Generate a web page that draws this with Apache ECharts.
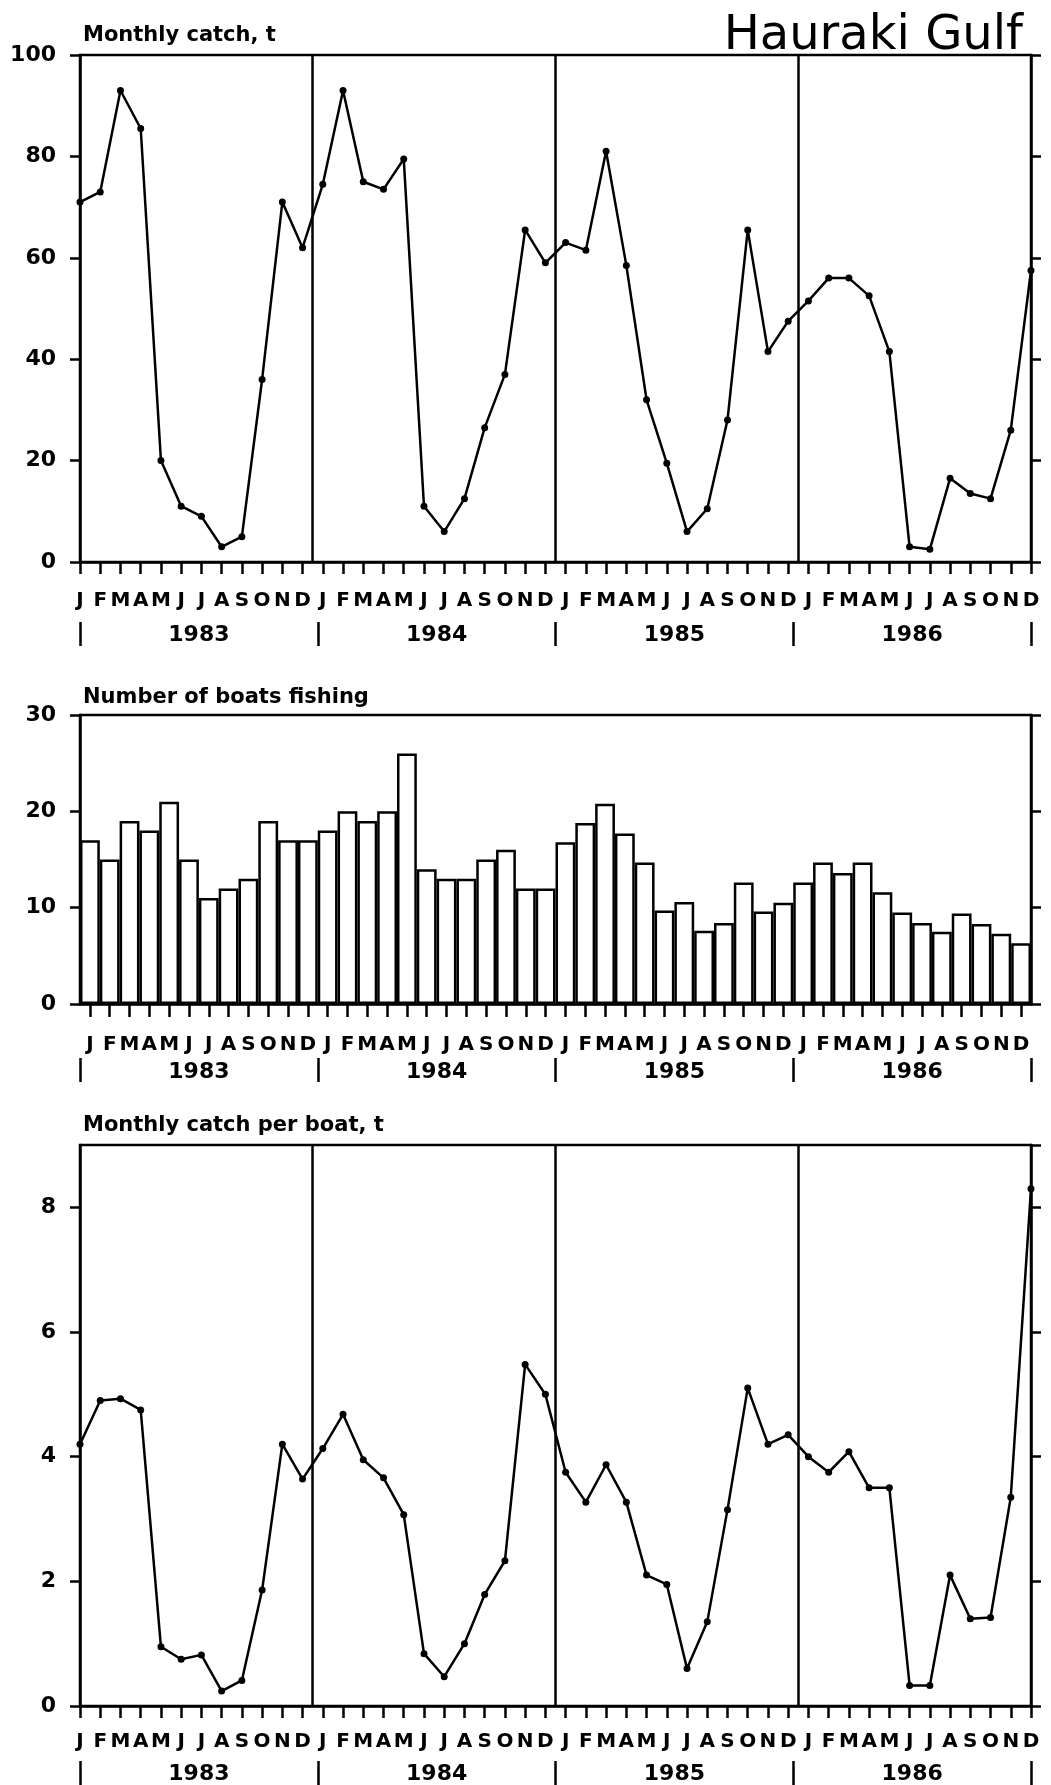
<!DOCTYPE html>
<html>
<head>
<meta charset="utf-8">
<script src="https://cdn.jsdelivr.net/npm/echarts@6/dist/echarts.min.js"></script>
<style>
html,body{margin:0;padding:0;background:#fff;}
#chart{width:1051px;height:1785px;}
</style>
</head>
<body>
<div id="chart"></div>
<script>
// ---- data ----
const MONTHS = ['J','F','M','A','M','J','J','A','S','O','N','D'];
const YEARS = ['1983','1984','1985','1986'];
const YEAR_BREAKS = [11.5, 23.5, 35.5];

// Monthly catch, t (Jan 1983 .. Dec 1986)
const CATCH_1983 = [71, 73, 93, 85.5, 20, 11, 9, 3, 5, 36, 71, 62];
const CATCH_1984 = [74.5, 93, 75, 73.5, 79.5, 11, 6, 12.5, 26.5, 37, 65.5, 59];
const CATCH_1985 = [63, 61.5, 81, 58.5, 32, 19.5, 6, 10.5, 28, 65.5, 41.5, 47.5];
const CATCH_1986 = [51.5, 56, 56, 52.5, 41.5, 3, 2.5, 16.5, 13.5, 12.5, 26, 57.5];

// Number of boats fishing
const BOATS_1983 = [17, 15, 19, 18, 21, 15, 11, 12, 13, 19, 17, 17];
const BOATS_1984 = [18, 20, 19, 20, 26, 14, 13, 13, 15, 16, 12, 12];
const BOATS_1985 = [16.8, 18.8, 20.8, 17.7, 14.7, 9.7, 10.6, 7.6, 8.4, 12.6, 9.6, 10.5];
const BOATS_1986 = [12.6, 14.7, 13.6, 14.7, 11.6, 9.5, 8.4, 7.5, 9.4, 8.3, 7.3, 6.3];

// Monthly catch per boat, t
const CPB_1983 = [4.2, 4.9, 4.93, 4.75, 0.95, 0.75, 0.82, 0.24, 0.41, 1.86, 4.2, 3.64];
const CPB_1984 = [4.13, 4.68, 3.95, 3.66, 3.07, 0.84, 0.47, 1.0, 1.79, 2.33, 5.48, 5.0];
const CPB_1985 = [3.75, 3.27, 3.87, 3.27, 2.1, 1.95, 0.6, 1.35, 3.15, 5.1, 4.2, 4.35];
const CPB_1986 = [4.0, 3.75, 4.08, 3.5, 3.5, 0.33, 0.33, 2.1, 1.4, 1.42, 3.35, 8.3];

const CATCH_TICKS = [0, 20, 40, 60, 80, 100];
const BOATS_TICKS = [0, 10, 20, 30];
const CPB_TICKS = [0, 2, 4, 6, 8];
const CPB_MAX = 9;

// ---- build ----
const CATCH = [].concat(CATCH_1983, CATCH_1984, CATCH_1985, CATCH_1986);
const BOATS = [].concat(BOATS_1983, BOATS_1984, BOATS_1985, BOATS_1986);
const CPB = [].concat(CPB_1983, CPB_1984, CPB_1985, CPB_1986);
const MONTH_CATS = [];
YEARS.forEach(() => MONTHS.forEach(m => MONTH_CATS.push(m)));
const N = MONTH_CATS.length;

const FONT = 'DejaVu Sans';
const BLACK = '#000';
const LW = 2.5;
const labelStyle = (size) => ({ color: BLACK, fontFamily: FONT, fontWeight: 'bold', fontSize: size });

const grids = [
  { left: 80, right: 20, top: 55, height: 507 },
  { left: 80, right: 20, top: 715, height: 289 },
  { left: 80, right: 20, top: 1145, height: 561 }
].map(g => Object.assign(g, { show: true, borderColor: BLACK, borderWidth: LW, backgroundColor: 'transparent' }));

function monthValueAxis(gi, margin) {
  return {
    type: 'value', gridIndex: gi, min: 0, max: N - 1, interval: 1, position: 'bottom',
    axisLine: { show: true, onZero: false, lineStyle: { color: BLACK, width: LW } },
    axisTick: { show: true, inside: false, length: 12, lineStyle: { color: BLACK, width: LW } },
    axisLabel: Object.assign({ margin: margin, showMinLabel: true, showMaxLabel: true,
      formatter: v => MONTH_CATS[Math.round(v)] || '' }, labelStyle(20)),
    splitLine: { show: false }
  };
}
function yearAxis(gi, offset, tick, margin) {
  return {
    type: 'category', gridIndex: gi, data: YEARS, position: 'bottom', offset: offset,
    boundaryGap: true,
    axisLine: { show: true, onZero: false, lineStyle: { color: BLACK, width: 1, opacity: 0 } },
    axisTick: { show: true, inside: false, length: tick, interval: 0, lineStyle: { color: BLACK, width: LW } },
    axisLabel: Object.assign({ margin: margin, interval: 0 }, labelStyle(22)),
    splitLine: { show: false }
  };
}
function leftAxis(gi, ticks, max) {
  const iv = ticks[1] - ticks[0];
  return {
    type: 'value', gridIndex: gi, position: 'left', min: ticks[0], max: max, interval: iv,
    axisLine: { show: true, lineStyle: { color: BLACK, width: LW } },
    axisTick: { show: true, inside: false, length: 10, lineStyle: { color: BLACK, width: LW } },
    axisLabel: Object.assign({ margin: 24, showMaxLabel: max === ticks[ticks.length - 1],
      formatter: v => (ticks.indexOf(v) >= 0 ? String(v) : '') }, labelStyle(22)),
    splitLine: { show: false }
  };
}
function rightAxis(gi, ticks, max) {
  const iv = ticks[1] - ticks[0];
  return {
    type: 'value', gridIndex: gi, position: 'right', min: ticks[0], max: max, interval: iv,
    axisLine: { show: true, lineStyle: { color: BLACK, width: LW } },
    axisTick: { show: true, inside: false, length: 10, lineStyle: { color: BLACK, width: LW } },
    axisLabel: { show: false },
    splitLine: { show: false }
  };
}

const dividerLine = {
  silent: true, symbol: ['none', 'none'], label: { show: false },
  lineStyle: { color: BLACK, width: LW, type: 'solid' },
  data: YEAR_BREAKS.map(x => ({ xAxis: x }))
};

const option = {
  animation: false,
  backgroundColor: '#fff',
  title: [
    { text: 'Hauraki Gulf', right: 23, top: 8,
      textStyle: { color: BLACK, fontFamily: FONT, fontWeight: 'normal', fontSize: 48 } },
    { text: 'Monthly catch, t', left: 78, top: 20, textStyle: labelStyle(21) },
    { text: 'Number of boats fishing', left: 78, top: 682, textStyle: labelStyle(21) },
    { text: 'Monthly catch per boat, t', left: 78, top: 1110, textStyle: labelStyle(21) }
  ],
  grid: grids,
  xAxis: [
    monthValueAxis(0, 29),
    yearAxis(0, 60, 24, 2),
    {
      type: 'category', gridIndex: 1, data: MONTH_CATS, position: 'bottom', boundaryGap: true,
      axisLine: { show: true, onZero: false, lineStyle: { color: BLACK, width: LW } },
      axisTick: { show: true, alignWithLabel: true, inside: false, length: 13, interval: 0,
        lineStyle: { color: BLACK, width: LW } },
      axisLabel: Object.assign({ margin: 31, interval: 0 }, labelStyle(20)),
      splitLine: { show: false }
    },
    yearAxis(1, 54, 24, 3),
    monthValueAxis(2, 26),
    yearAxis(2, 55, 24, 2)
  ],
  yAxis: [
    leftAxis(0, CATCH_TICKS, 100),
    rightAxis(0, CATCH_TICKS, 100),
    leftAxis(1, BOATS_TICKS, 30),
    rightAxis(1, BOATS_TICKS, 30),
    leftAxis(2, CPB_TICKS, CPB_MAX),
    rightAxis(2, CPB_TICKS, CPB_MAX)
  ],
  series: [
    {
      name: 'Monthly catch', type: 'line', xAxisIndex: 0, yAxisIndex: 0,
      data: CATCH.map((v, i) => [i, v]),
      symbol: 'circle', symbolSize: 7, clip: false,
      lineStyle: { color: BLACK, width: LW }, itemStyle: { color: BLACK },
      markLine: dividerLine
    },
    {
      name: 'Number of boats fishing', type: 'bar', xAxisIndex: 2, yAxisIndex: 2,
      data: BOATS, barCategoryGap: '0%',
      itemStyle: { color: '#fff', borderColor: BLACK, borderWidth: LW }
    },
    {
      name: 'Monthly catch per boat', type: 'line', xAxisIndex: 4, yAxisIndex: 4,
      data: CPB.map((v, i) => [i, v]),
      symbol: 'circle', symbolSize: 7, clip: false,
      lineStyle: { color: BLACK, width: LW }, itemStyle: { color: BLACK },
      markLine: dividerLine
    }
  ]
};

const chart = echarts.init(document.getElementById('chart'), null, { renderer: 'canvas' });
chart.setOption(option);
</script>
</body>
</html>
